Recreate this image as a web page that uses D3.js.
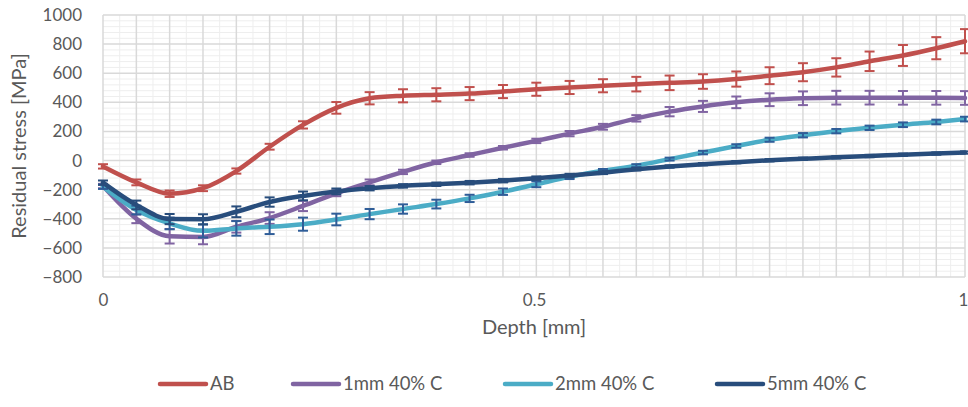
<!DOCTYPE html>
<html>
<head>
<meta charset="utf-8">
<script src="https://cdn.jsdelivr.net/npm/d3@7"></script>
<style>
  body { margin: 0; background: #fff; }
  svg text { font-family: Lato, "Open Sans", sans-serif; fill: #595959; }
</style>
</head>
<body>
<div id="chart"></div>
<script>
var depth = [0, 0.0387, 0.0773, 0.116, 0.1547, 0.1933, 0.232, 0.2707, 0.3093,
  0.348, 0.3867, 0.4253, 0.464, 0.5027, 0.5413, 0.58, 0.6187, 0.6573, 0.696,
  0.7347, 0.7733, 0.812, 0.8507, 0.8893, 0.928, 0.9667, 1.0];

var abValues = [-40, -150, -228, -190, -72, 95, 245, 362, 428, 445, 452, 460,
  474, 490, 502, 514, 525, 534, 543, 560, 583, 607, 640, 682, 722, 772, 820];
var abErrors = [15, 20, 22, 20, 18, 20, 25, 40, 42, 45, 45, 45, 45, 45, 45,
  45, 50, 50, 50, 52, 58, 62, 63, 67, 72, 76, 83];

var c1Values = [-175, -400, -520, -525, -455, -395, -312, -225, -150, -78, -12,
  38, 88, 135, 185, 232, 290, 336, 372, 400, 418, 428, 432, 432, 431, 431, 430];
var c1Errors = [15, 30, 50, 50, 40, 40, 35, 20, 20, 15, 12, 12, 12, 15, 18, 20,
  22, 32, 38, 40, 44, 47, 47, 47, 47, 47, 47];

var c2Values = [-180, -340, -432, -483, -466, -455, -437, -405, -368, -333, -299,
  -260, -214, -163, -112, -70, -35, 10, 55, 100, 143, 174, 202, 225, 246, 265, 285];
var c2Errors = [15, 30, 40, 45, 50, 50, 45, 40, 35, 32, 30, 25, 22, 20, 15, 12,
  10, 10, 12, 12, 14, 15, 15, 15, 16, 16, 16];

var c5Values = [-152, -305, -402, -404, -352, -285, -243, -212, -190, -174, -163,
  -152, -138, -121, -103, -83, -60, -41, -25, -11, 2, 12, 22, 31, 40, 48, 55];
var c5Errors = [15, 30, 35, 35, 37, 32, 30, 20, 15, 12, 12, 12, 12, 12, 12, 10,
  8, 8, 8, 8, 8, 8, 8, 8, 8, 8, 8];

var seriesNames = ['AB', '1mm 40% C', '2mm 40% C', '5mm 40% C'];
var xTicks = [0, 0.5, 1];
var yTicks = [1000, 800, 600, 400, 200, 0, -200, -400, -600, -800];

var series = [
  { name: seriesNames[0], values: abValues, errors: abErrors, color: '#c0504d', errColor: '#c0504d' },
  { name: seriesNames[1], values: c1Values, errors: c1Errors, color: '#8064a2', errColor: '#8064a2' },
  { name: seriesNames[2], values: c2Values, errors: c2Errors, color: '#4bacc6', errColor: '#2f5d98' },
  { name: seriesNames[3], values: c5Values, errors: c5Errors, color: '#284d7c', errColor: '#284d7c' }
];

var width = 968, height = 407;
var plot = { left: 103, right: 965, top: 15, bottom: 277 };

var svg = d3.select('#chart').append('svg')
  .attr('width', width)
  .attr('height', height);

var x = d3.scaleLinear().domain([0, 1]).range([plot.left, plot.right]);
var y = d3.scaleLinear().domain([-800, 1000]).range([plot.bottom, plot.top]);

// grid: minor first, then major
var grid = svg.append('g').attr('class', 'grid');

var minorX = d3.pairs(depth).map(function (p) { return (p[0] + p[1]) / 2; });
var minorY = d3.range(-800, 1000, 40).filter(function (v) { return v % 200 !== 0; });

grid.selectAll('line.minor-x').data(minorX).enter().append('line')
  .attr('x1', function (d) { return x(d); })
  .attr('x2', function (d) { return x(d); })
  .attr('y1', plot.top).attr('y2', plot.bottom)
  .attr('stroke', '#eeeeee').attr('stroke-width', 1);

grid.selectAll('line.minor-y').data(minorY).enter().append('line')
  .attr('x1', plot.left).attr('x2', plot.right)
  .attr('y1', function (d) { return y(d); })
  .attr('y2', function (d) { return y(d); })
  .attr('stroke', '#eeeeee').attr('stroke-width', 1);

grid.selectAll('line.major-x').data(depth).enter().append('line')
  .attr('x1', function (d) { return x(d); })
  .attr('x2', function (d) { return x(d); })
  .attr('y1', plot.top).attr('y2', plot.bottom)
  .attr('stroke', '#d9d9d9').attr('stroke-width', 1.5);

grid.selectAll('line.major-y').data(yTicks).enter().append('line')
  .attr('x1', plot.left).attr('x2', plot.right)
  .attr('y1', function (d) { return y(d); })
  .attr('y2', function (d) { return y(d); })
  .attr('stroke', '#d9d9d9').attr('stroke-width', 1.5);

// axes (labels only, Excel style)
var yAxis = svg.append('g')
  .attr('transform', 'translate(' + (plot.left - 18) + ',0)')
  .call(d3.axisLeft(y).tickValues(yTicks).tickSize(0).tickFormat(d3.format('d')));
yAxis.select('.domain').remove();
yAxis.selectAll('text').attr('font-size', 17).attr('fill', '#595959')
  .attr('font-family', 'Lato, sans-serif');

var xAxis = svg.append('g')
  .attr('transform', 'translate(0,' + (plot.bottom + 14) + ')')
  .call(d3.axisBottom(x).tickValues(xTicks).tickSize(0).tickFormat(d3.format('')));
xAxis.select('.domain').remove();
xAxis.selectAll('text').attr('font-size', 17).attr('fill', '#595959')
  .attr('font-family', 'Lato, sans-serif')
  .attr('dx', function (d) { return d === 1 ? -2 : 0; });

svg.append('text')
  .attr('x', (plot.left + plot.right) / 2)
  .attr('y', 334)
  .attr('text-anchor', 'middle')
  .attr('font-size', 20)
  .text('Depth [mm]');

svg.append('text')
  .attr('transform', 'translate(26,' + ((plot.top + plot.bottom) / 2) + ') rotate(-90)')
  .attr('text-anchor', 'middle')
  .attr('font-size', 20)
  .text('Residual stress [MPa]');

// series
var line = d3.line()
  .x(function (d) { return x(d.depth); })
  .y(function (d) { return y(d.value); })
  .curve(d3.curveMonotoneX);

var capHalf = 5;

series.forEach(function drawSeries(s) {
  var pts = depth.map(function (dp, i) {
    return { depth: dp, value: s.values[i], err: s.errors[i] };
  });
  var g = svg.append('g').attr('class', 'series');

  g.append('path')
    .datum(pts)
    .attr('d', line)
    .attr('fill', 'none')
    .attr('stroke', s.color)
    .attr('stroke-width', 4.5)
    .attr('stroke-linejoin', 'round')
    .attr('stroke-linecap', 'round');

  var eb = g.selectAll('g.err').data(pts).enter().append('g')
    .attr('stroke', s.errColor)
    .attr('stroke-width', 2);
  eb.append('line')
    .attr('x1', function (d) { return x(d.depth); })
    .attr('x2', function (d) { return x(d.depth); })
    .attr('y1', function (d) { return y(d.value - d.err); })
    .attr('y2', function (d) { return y(d.value + d.err); });
  eb.append('line')
    .attr('x1', function (d) { return x(d.depth) - capHalf; })
    .attr('x2', function (d) { return x(d.depth) + capHalf; })
    .attr('y1', function (d) { return y(d.value + d.err); })
    .attr('y2', function (d) { return y(d.value + d.err); });
  eb.append('line')
    .attr('x1', function (d) { return x(d.depth) - capHalf; })
    .attr('x2', function (d) { return x(d.depth) + capHalf; })
    .attr('y1', function (d) { return y(d.value - d.err); })
    .attr('y2', function (d) { return y(d.value - d.err); });
});

// legend
var legendX = [160, 293, 505, 717];
var legend = svg.append('g').attr('class', 'legend');
series.forEach(function (s, i) {
  var item = legend.append('g').attr('transform', 'translate(' + legendX[i] + ',384)');
  item.append('line')
    .attr('x1', 0).attr('x2', 46)
    .attr('y1', 0).attr('y2', 0)
    .attr('stroke', s.color)
    .attr('stroke-width', 4.5)
    .attr('stroke-linecap', 'round');
  item.append('text')
    .attr('x', 50)
    .attr('y', 0)
    .attr('dy', '0.35em')
    .attr('font-size', 18.5)
    .text(s.name);
});
</script>
</body>
</html>
